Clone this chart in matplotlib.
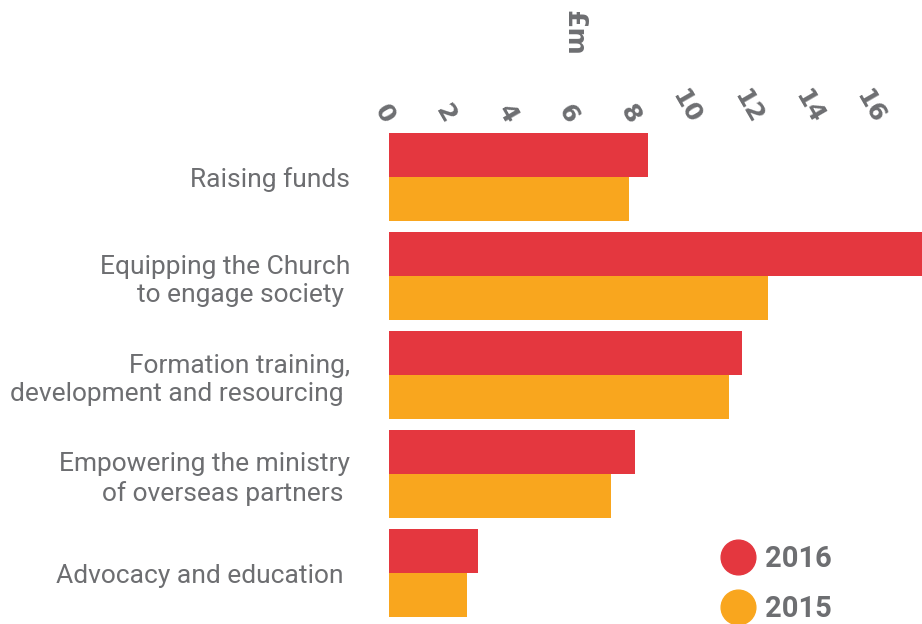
import matplotlib.pyplot as plt
from matplotlib.lines import Line2D
import numpy as np

# data (£m)
categories = ['Raising funds',
              'Equipping the Church\nto engage society ',
              'Formation training,\ndevelopment and resourcing ',
              'Empowering the ministry\nof overseas partners ',
              'Advocacy and education ']
vals_2016 = [8.45, 18.0, 11.55, 8.05, 2.9]
vals_2015 = [7.85, 12.4, 11.1, 7.25, 2.55]
xticks = [0, 2, 4, 6, 8, 10, 12, 14, 16]

red = '#E4373F'
orange = '#F9A61E'
grey = '#6D6E71'

fig = plt.figure(figsize=(9.22, 6.24), dpi=100)
# axes runs from pixel 389 to the right edge, 127 to 622 vertically
ax = fig.add_axes([389 / 922, 1.5 / 624, 533 / 922, 495 / 624])

y = np.arange(len(categories))
h = 0.4444
ax.barh(y - h / 2, vals_2016, height=h, color=red)
ax.barh(y + h / 2, vals_2015, height=h, color=orange)

ax.set_xlim(0, 533 / 30.6)
ax.set_ylim(len(categories) - 0.5, -0.5)

ax.set_yticks(y)
ax.set_yticklabels(categories, fontsize=19, color=grey, family='Roboto',
                   linespacing=1.25)
ax.tick_params(axis='y', length=0, pad=28)

ax.xaxis.tick_top()
ax.set_xticks(xticks)
ax.set_xticklabels([str(t) for t in xticks], rotation=-60, ha='right', va='center',
                   rotation_mode='anchor', fontsize=18, fontweight='bold',
                   color=grey, family='DejaVu Sans')
ax.tick_params(axis='x', length=0, pad=4)

for s in ax.spines.values():
    s.set_visible(False)

fig.text(573 / 922, 1 - 33 / 624, '£m', rotation=-90, ha='center', va='center',
         fontsize=19, fontweight='bold', color=grey, family='DejaVu Sans')

handles = [Line2D([], [], marker='o', linestyle='', markersize=25, color=red),
           Line2D([], [], marker='o', linestyle='', markersize=25, color=orange)]
leg = fig.legend(handles, ['2016', '2015'], loc='center left',
                 bbox_to_anchor=(683 / 922, 1 - 584 / 624), frameon=False,
                 handletextpad=-0.1, labelspacing=0.75,
                 prop={'family': 'Roboto', 'weight': 'bold', 'size': 21})
for t in leg.get_texts():
    t.set_color(grey)

fig.savefig('out.png', dpi=100)
